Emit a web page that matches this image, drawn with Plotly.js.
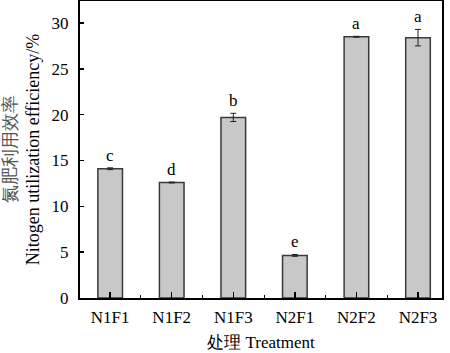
<!DOCTYPE html>
<html><head><meta charset="utf-8">
<script src="https://cdn.plot.ly/plotly-3.0.1.min.js"></script>
<style>body{margin:0;padding:0;background:#fff}#chart{width:450px;height:353px}</style>
</head><body><div id="chart"></div>
<script>
const categories = ["N1F1","N1F2","N1F3","N2F1","N2F2","N2F3"];
const values = [14.1, 12.6, 19.7, 4.65, 28.5, 28.4];
const errors = [0.1, 0.05, 0.45, 0.1, 0.05, 0.9];
const letters = ["c","d","b","e","a","a"];
const yTicks = [0,5,10,15,20,25,30];

const xIdx = categories.map((_, i) => i);
const font = {family: '"Liberation Serif","Times New Roman",serif', color: '#000', size: 17};

const trace = {
  type: 'bar', x: xIdx, y: values, width: 0.4,
  marker: {color: '#c8c8c8', line: {color: '#3a3a3a', width: 1.5}},
  error_y: {type: 'data', array: errors, visible: true, color: '#222', thickness: 1, width: 3},
  hoverinfo: 'none'
};

const annotations = categories.map((c, i) => ({
  x: i, y: values[i] + errors[i], text: letters[i], showarrow: false,
  yanchor: 'bottom', yshift: 1, font: font
}));

const layout = {
  width: 450, height: 353,
  margin: {l: 80, r: 8, t: 1, b: 55},
  paper_bgcolor: '#fff', plot_bgcolor: '#fff',
  font: font, showlegend: false, bargap: 0,
  xaxis: {
    type: 'linear', range: [-0.49, 5.39], tickvals: xIdx, ticktext: categories,
    ticks: 'inside', ticklen: 6, tickwidth: 1.5, tickcolor: '#000',
    minor: {tick0: 0.5, dtick: 1, ticks: 'inside', ticklen: 3, tickwidth: 1, tickcolor: '#000'},
    showline: true, linecolor: '#000', linewidth: 2, mirror: true, layer: 'above traces',
    showgrid: false, zeroline: false, tickfont: font, ticklabelstandoff: 3,
    title: {text: '处理 Treatment', font: font, standoff: 10}
  },
  yaxis: {
    range: [0, 32.4], tickvals: yTicks,
    ticks: 'inside', ticklen: 4, tickwidth: 1.5, tickcolor: '#000',
    showline: true, linecolor: '#000', linewidth: 2, mirror: true, layer: 'above traces',
    showgrid: false, zeroline: false, tickfont: font, ticklabelstandoff: 6,
    title: {text: '<span style="color:#555">氮肥利用效率</span><br>Nitogen utilization efficiency/%', font: Object.assign({}, font, {size: 18}), standoff: 8}
  },
  annotations: annotations
};
Plotly.newPlot('chart', [trace], layout, {staticPlot: true, displayModeBar: false});
</script></body></html>
